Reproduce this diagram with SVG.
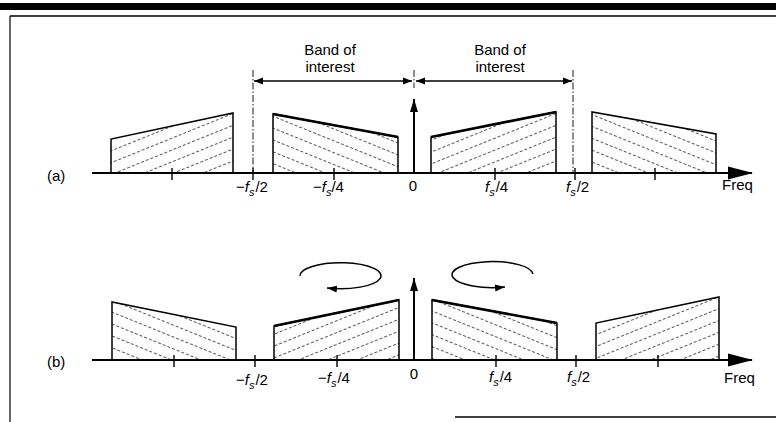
<svg xmlns="http://www.w3.org/2000/svg" width="776" height="422" viewBox="0 0 776 422">
<style>
text{font-family:"Liberation Sans",Arial,sans-serif;font-size:15px;fill:#000}
.it{font-style:italic}
.sub{font-style:italic;font-size:11px}
.ax{stroke:#000;stroke-width:2.2;fill:none}
.tk{stroke:#000;stroke-width:1.4}
.blk{stroke:#000;stroke-width:1.5;stroke-linejoin:miter}
.top{stroke:#000;stroke-width:2.6;fill:none}
.dd{stroke:#000;stroke-width:0.9;stroke-dasharray:7 2 1.5 2;fill:none}
.frame{stroke:#000;fill:none}
.hl{stroke:#444;stroke-width:0.9;stroke-dasharray:3 2}
</style>
<defs>
<pattern id="hu" width="40" height="11" patternUnits="userSpaceOnUse" patternTransform="rotate(-22)">
<line class="hl" x1="0" y1="5.5" x2="40" y2="5.5"/>
</pattern>
<pattern id="hd" width="40" height="11" patternUnits="userSpaceOnUse" patternTransform="rotate(22)">
<line class="hl" x1="0" y1="5.5" x2="40" y2="5.5"/>
</pattern>
<marker id="ah" markerWidth="10" markerHeight="8" refX="9" refY="4" orient="auto-start-reverse" markerUnits="userSpaceOnUse">
<path d="M0,0.5 L9,4 L0,7.5 Z" fill="#000"/>
</marker>
<marker id="av" markerWidth="14" markerHeight="8" refX="13" refY="4" orient="auto" markerUnits="userSpaceOnUse">
<path d="M0,0 L13,4 L0,8 Z" fill="#000"/>
</marker>
<marker id="ac" markerWidth="11" markerHeight="8" refX="10" refY="4" orient="auto" markerUnits="userSpaceOnUse">
<path d="M0,0.5 L10,4 L0,7.5 Z" fill="#000"/>
</marker>
</defs>

<g id="frame">
<rect x="0" y="3" width="776" height="7" fill="#000"/>
<line class="frame" x1="10" y1="16" x2="776" y2="16" stroke-width="1.3"/>
<line class="frame" x1="10" y1="16" x2="10" y2="422" stroke-width="1.2"/>
<line class="frame" x1="455" y1="417" x2="776" y2="417" stroke-width="1.6"/>
</g>

<!-- Panel (a) -->
<g id="panel-a">
<g id="a-spectra">
<path class="blk" d="M111,173 L111,139 L233,113 L233,173" fill="url(#hu)"/>
<path class="blk" d="M273,173 L273,114 L398,137 L398,173" fill="url(#hd)"/>
<path class="top" d="M273,114 L398,137"/>
<path class="blk" d="M431,173 L431,137 L556,112 L556,173" fill="url(#hu)"/>
<path class="top" d="M431,137 L556,112"/>
<path class="blk" d="M592,173 L592,112 L716,134 L716,173" fill="url(#hd)"/>
</g>
<g id="a-connectors">
<line class="dd" x1="253" y1="70" x2="253" y2="172"/>
<line class="dd" x1="573" y1="70" x2="573" y2="172"/>
<line class="dd" x1="414" y1="70" x2="414" y2="88"/>
<line x1="254" y1="81" x2="412" y2="81" stroke="#000" stroke-width="1.3" marker-start="url(#ah)" marker-end="url(#ah)"/>
<line x1="416" y1="81" x2="572" y2="81" stroke="#000" stroke-width="1.3" marker-start="url(#ah)" marker-end="url(#ah)"/>
<line class="ax" x1="92" y1="173" x2="752" y2="173"/>
<path d="M728,166.5 L753,173 L728,179.5 Z" fill="#000"/>
<line x1="414" y1="173" x2="414" y2="99" stroke="#000" stroke-width="2" marker-end="url(#av)"/>
<line class="tk" x1="172" y1="168" x2="172" y2="180"/>
<line class="tk" x1="253" y1="168" x2="253" y2="180"/>
<line class="tk" x1="334" y1="168" x2="334" y2="180"/>
<line class="tk" x1="495" y1="168" x2="495" y2="180"/>
<line class="tk" x1="575" y1="168" x2="575" y2="180"/>
<line class="tk" x1="655" y1="168" x2="655" y2="180"/>
</g>
<g id="a-labels">
<text x="330" y="55" text-anchor="middle">Band of</text>
<text x="330" y="72" text-anchor="middle">interest</text>
<text x="500" y="55" text-anchor="middle">Band of</text>
<text x="500" y="72" text-anchor="middle">interest</text>
<text x="47" y="181">(a)</text>
<text x="236" y="192">−<tspan class="it">f</tspan><tspan class="sub" dx="0" dy="4">s</tspan><tspan dx="1" dy="-4">/2</tspan></text>
<text x="313" y="192">−<tspan class="it">f</tspan><tspan class="sub" dx="0" dy="4">s</tspan><tspan dx="0" dy="-4">/4</tspan></text>
<text x="413" y="191" text-anchor="middle">0</text>
<text x="485" y="192"><tspan class="it">f</tspan><tspan class="sub" dx="0" dy="4">s</tspan><tspan dx="1" dy="-4">/4</tspan></text>
<text x="566" y="192"><tspan class="it">f</tspan><tspan class="sub" dx="0" dy="4">s</tspan><tspan dx="1" dy="-4">/2</tspan></text>
<text x="722" y="190">Freq</text>
</g>
</g>

<!-- Panel (b) -->
<g id="panel-b">
<g id="b-spectra">
<path class="blk" d="M112,360 L112,302 L236,327 L236,360" fill="url(#hd)"/>
<path class="blk" d="M274,360 L274,326 L399,300 L399,360" fill="url(#hu)"/>
<path class="top" d="M274,326 L399,300"/>
<path class="blk" d="M432,360 L432,300 L557,323 L557,360" fill="url(#hd)"/>
<path class="top" d="M432,300 L557,323"/>
<path class="blk" d="M596,360 L596,323 L719,297 L719,360" fill="url(#hu)"/>
</g>
<g id="b-connectors">
<line class="ax" x1="92" y1="360" x2="752" y2="360"/>
<path d="M728,353.5 L753,360 L728,366.5 Z" fill="#000"/>
<line x1="414" y1="360" x2="414" y2="278" stroke="#000" stroke-width="2" marker-end="url(#av)"/>
<path d="M300,276 A40.5,13 0 1 1 327,288" fill="none" stroke="#000" stroke-width="1.5" marker-end="url(#ac)"/>
<path d="M533,274 A40.5,13 0 1 0 505,287" fill="none" stroke="#000" stroke-width="1.5" marker-end="url(#ac)"/>
<line class="tk" x1="174" y1="355" x2="174" y2="367"/>
<line class="tk" x1="255" y1="355" x2="255" y2="367"/>
<line class="tk" x1="337" y1="355" x2="337" y2="367"/>
<line class="tk" x1="496" y1="355" x2="496" y2="367"/>
<line class="tk" x1="576" y1="355" x2="576" y2="367"/>
<line class="tk" x1="658" y1="355" x2="658" y2="367"/>
</g>
<g id="b-labels">
<text x="47" y="367">(b)</text>
<text x="236" y="385">−<tspan class="it">f</tspan><tspan class="sub" dx="0" dy="4">s</tspan><tspan dx="1" dy="-4">/2</tspan></text>
<text x="318" y="383">−<tspan class="it">f</tspan><tspan class="sub" dx="0" dy="4">s</tspan><tspan dx="1" dy="-4">/4</tspan></text>
<text x="414" y="379" text-anchor="middle">0</text>
<text x="489" y="382"><tspan class="it">f</tspan><tspan class="sub" dx="0" dy="4">s</tspan><tspan dx="1" dy="-4">/4</tspan></text>
<text x="567" y="382"><tspan class="it">f</tspan><tspan class="sub" dx="0" dy="4">s</tspan><tspan dx="1" dy="-4">/2</tspan></text>
<text x="724" y="383">Freq</text>
</g>
</g>
</svg>
